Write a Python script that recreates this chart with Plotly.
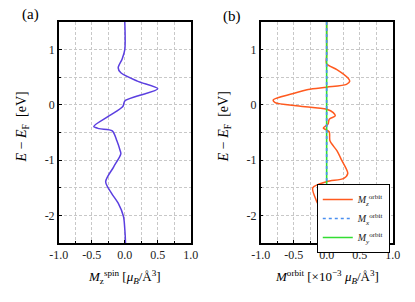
import plotly.graph_objects as go

# Panel (a): spin magnetisation density M_z^spin vs energy
E_a = [1.5, 1.0, 0.83, 0.67, 0.58, 0.43, 0.29, 0.16, 0.07, -0.03, -0.2, -0.39, -0.43, -0.47, -0.65, -0.83, -0.885, -1.125, -1.39, -1.6, -1.78, -2.02, -2.25, -2.47, -2.5]
M_a = [0.0, 0.0, -0.04, -0.1, -0.06, 0.19, 0.5, 0.19, 0.0, -0.03, -0.24, -0.47, -0.39, -0.19, -0.12, -0.07, -0.06, -0.17, -0.29, -0.2, -0.1, -0.02, 0.0, 0.01, 0.01]

# Panel (b): orbital magnetisation density (x1e-3)
E_b = [1.5, 0.9, 0.74, 0.64, 0.49, 0.43, 0.37, 0.32, 0.28, 0.2, 0.09, 0.04, -0.02, -0.08, -0.14, -0.2, -0.26, -0.35, -0.42, -0.45, -0.49, -0.65, -0.83, -1.0, -1.24, -1.33, -1.39, -1.5, -1.72, -2.02, -2.35, -2.5]
Mz_b = [0.0, 0.0, 0.0, 0.155, 0.32, 0.35, 0.3, 0.0, -0.28, -0.52, -0.81, -0.78, -0.42, 0.0, 0.1, 0.13, 0.04, 0.02, -0.05, -0.01, 0.04, 0.05, 0.155, 0.227, 0.32, 0.26, 0.0, -0.21, -0.16, -0.04, -0.01, 0.0]
E_xy = [1.5, -2.5]
Mx_b = [0.0, 0.0]
My_b = [0.0, 0.0]

x_ticks = [-1.0, -0.5, 0.0, 0.5, 1.0]
x_ticklabels = ["-1.0", "-0.5", "0.0", "0.5", "1.0"]
y_ticks = [-2, -1, 0, 1]
y_ticklabels = ["-2", "-1", "0", "1"]

FONT = "Liberation Serif"
GRID = "#c8c8c8"
DASH = "3px,2px"

fig = go.Figure()
fig.add_trace(go.Scatter(x=M_a, y=E_a, mode="lines", line=dict(color="#5b3fe0", width=1.5, shape="spline", smoothing=0.8),
                         showlegend=False, xaxis="x", yaxis="y"))
fig.add_trace(go.Scatter(x=Mz_b, y=E_b, mode="lines", line=dict(color="#ff5a1f", width=1.5, shape="spline", smoothing=0.8),
                         name="<i>M</i><sub><i>z</i></sub><sup>orbit</sup>", xaxis="x2", yaxis="y2", legendrank=1))
fig.add_trace(go.Scatter(x=My_b, y=E_xy, mode="lines", line=dict(color="#33dd33", width=1.6),
                         name="<i>M</i><sub><i>y</i></sub><sup>orbit</sup>", xaxis="x2", yaxis="y2", legendrank=3))
fig.add_trace(go.Scatter(x=Mx_b, y=E_xy, mode="lines", line=dict(color="#4a8ff0", width=1.6, dash="dot"),
                         name="<i>M</i><sub><i>x</i></sub><sup>orbit</sup>", xaxis="x2", yaxis="y2", legendrank=2))

ax_common = dict(
    range=[-1, 1], tickvals=x_ticks, ticktext=x_ticklabels,
    showgrid=True, gridcolor=GRID, griddash=DASH, gridwidth=0.8,
    showline=True, linecolor="black", linewidth=1.5, mirror=True,
    ticks="inside", ticklen=3, tickcolor="black", zeroline=False,
    tickfont=dict(family=FONT, size=12, color="#222"),
    minor=dict(dtick=0.25, showgrid=True, gridcolor=GRID, griddash=DASH, gridwidth=0.8,
               ticks="inside", ticklen=2, tickcolor="black"),
)
ay_common = dict(
    range=[-2.5, 1.5], tickvals=y_ticks, ticktext=y_ticklabels,
    showgrid=True, gridcolor=GRID, griddash=DASH, gridwidth=0.8,
    showline=True, linecolor="black", linewidth=1.5, mirror=True,
    ticks="inside", ticklen=3, tickcolor="black", zeroline=False,
    tickfont=dict(family=FONT, size=12, color="#222"),
    minor=dict(dtick=0.5, showgrid=True, gridcolor=GRID, griddash=DASH, gridwidth=0.8,
               ticks="inside", ticklen=2, tickcolor="black"),
)

def ann(text, x, y, size, angle=0):
    return dict(text=text, x=x/415, y=1-y/302, xref="paper", yref="paper", showarrow=False,
                xanchor="center", yanchor="middle", textangle=angle,
                font=dict(family=FONT, size=size, color="black"))

fig.update_layout(
    width=415, height=302,
    margin=dict(l=0, r=0, t=0, b=0),
    paper_bgcolor="white", plot_bgcolor="white",
    font=dict(family=FONT, size=12, color="#222"),
    xaxis=dict(domain=[51/415, 189/415], anchor="y", **ax_common),
    yaxis=dict(domain=[1-243/302, 1-22/302], anchor="x", **ay_common),
    xaxis2=dict(domain=[262/415, 400/415], anchor="y2", **ax_common),
    yaxis2=dict(domain=[1-243/302, 1-22/302], anchor="x2", **ay_common),
    showlegend=True,
    legend=dict(x=397/415, y=1-184/302, xanchor="right", yanchor="top",
                bordercolor="black", borderwidth=1, bgcolor="white",
                font=dict(family=FONT, size=10, color="#222"),
                tracegroupgap=0, itemwidth=30),
    annotations=[
        ann("(a)", 21, 14, 15),
        ann("(b)", 232, 16, 15),
        ann("<i>E</i> − <i>E</i><sub>F</sub>  [eV]", 13, 127, 14, -90),
        ann("<i>E</i> − <i>E</i><sub>F</sub>  [eV]", 224, 127, 14, -90),
        ann("<i>M</i><sub>z</sub><sup>spin</sup> [<i>μ</i><sub><i>B</i></sub>/Å<sup>3</sup>]", 120, 277, 13),
        ann("<i>M</i><sup>orbit</sup> [×10<sup>−3</sup> <i>μ</i><sub><i>B</i></sub>/Å<sup>3</sup>]", 331, 277, 13),
    ],
)

fig.write_html("out.html", config={"displayModeBar": False},
               post_script="document.body.style.margin='0';document.body.style.padding='0';")
